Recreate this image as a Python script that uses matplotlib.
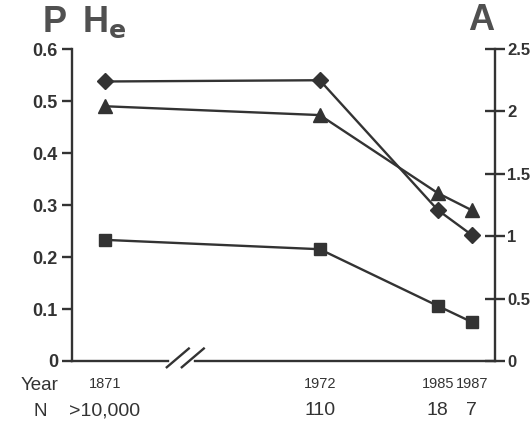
import matplotlib.pyplot as plt
from matplotlib.lines import Line2D

plt.rcParams['font.family'] = ['Liberation Sans', 'DejaVu Sans']

years = ['1871', '1972', '1985', '1987']
sizes = ['>10,000', '110', '18', '7']
he = [0.49, 0.473, 0.323, 0.29]
p = [0.233, 0.215, 0.106, 0.075]
a = [2.24, 2.25, 1.21, 1.01]

# horizontal layout of the year columns (axis is broken after 1871)
xpos = [0, 215, 333, 367]

ink = '#333333'
fig = plt.figure(figsize=(5.32, 4.25), dpi=100)
ax = fig.add_axes([0.135, 0.1506, 0.795, 0.734])
ax2 = ax.twinx()

ax.plot(xpos, he, color=ink, lw=1.7, marker='^', ms=10.5, zorder=3)
ax.plot(xpos, p, color=ink, lw=1.7, marker='s', ms=9, zorder=3)
ax2.plot(xpos, a, color=ink, lw=1.7, marker='D', ms=8, zorder=3)

ax.set_xlim(-33, 390)
ax.set_ylim(0, 0.6)
ax2.set_ylim(0, 2.5)
ax.set_yticks([0, 0.1, 0.2, 0.3, 0.4, 0.5, 0.6])
ax.set_yticklabels(['0', '0.1', '0.2', '0.3', '0.4', '0.5', '0.6'])
ax2.set_yticks([0, 0.5, 1, 1.5, 2, 2.5])
ax2.set_yticklabels(['0', '0.5', '1', '1.5', '2', '2.5'])
ax.set_xticks([])

for a_ in [ax, ax2]:
    a_.spines['top'].set_visible(False)
    a_.spines['bottom'].set_visible(False)
ax2.spines['left'].set_visible(False)
ax.spines['right'].set_visible(False)
for sp in [ax.spines['left'], ax2.spines['right']]:
    sp.set_color(ink)
    sp.set_linewidth(1.7)

ax.tick_params(axis='y', direction='out', length=7, width=1.7, color=ink,
               labelsize=13, labelcolor=ink, pad=3)
ax2.tick_params(axis='y', direction='inout', length=14, width=1.7, color=ink,
                labelsize=12, labelcolor=ink, pad=2)
for t in ax.get_yticklabels() + ax2.get_yticklabels():
    t.set_fontweight('bold')

# broken bottom axis
tr = ax.get_xaxis_transform()
for x0, x1 in [(-33, 63), (90, 390)]:
    ax.add_line(Line2D([x0, x1], [0, 0], transform=tr, color=ink, lw=1.7,
                       clip_on=False))
for dx in [62, 77]:
    ax.add_line(Line2D([dx, dx + 22], [-0.02, 0.04], transform=tr, color=ink,
                       lw=1.7, clip_on=False))

# axis titles
fig.text(55 / 532, 1 - 22 / 425, 'P', fontsize=26, fontweight='bold',
         color='#505050', ha='center', va='center')
fig.text(104 / 532, 1 - 22 / 425, r'H$_\mathbf{e}$', fontsize=26,
         fontweight='bold', color='#505050', ha='center', va='center')
fig.text(481 / 532, 1 - 20 / 425, 'A', fontsize=26, fontweight='bold',
         color='#505050', ha='center', va='center')

# year and N rows
fig.text(40 / 532, 1 - 386 / 425, 'Year', fontsize=13.5, color=ink,
         ha='center', va='center')
fig.text(40 / 532, 1 - 412 / 425, 'N', fontsize=13.5, color=ink,
         ha='center', va='center')
for x, yr, n in zip(xpos, years, sizes):
    ax.text(x, -0.075, yr, transform=tr, fontsize=10.5, color=ink,
            ha='center', va='center')
    ax.text(x, -0.16, n, transform=tr, fontsize=14, color=ink,
            ha='center', va='center')

fig.savefig('out.png', dpi=100)
